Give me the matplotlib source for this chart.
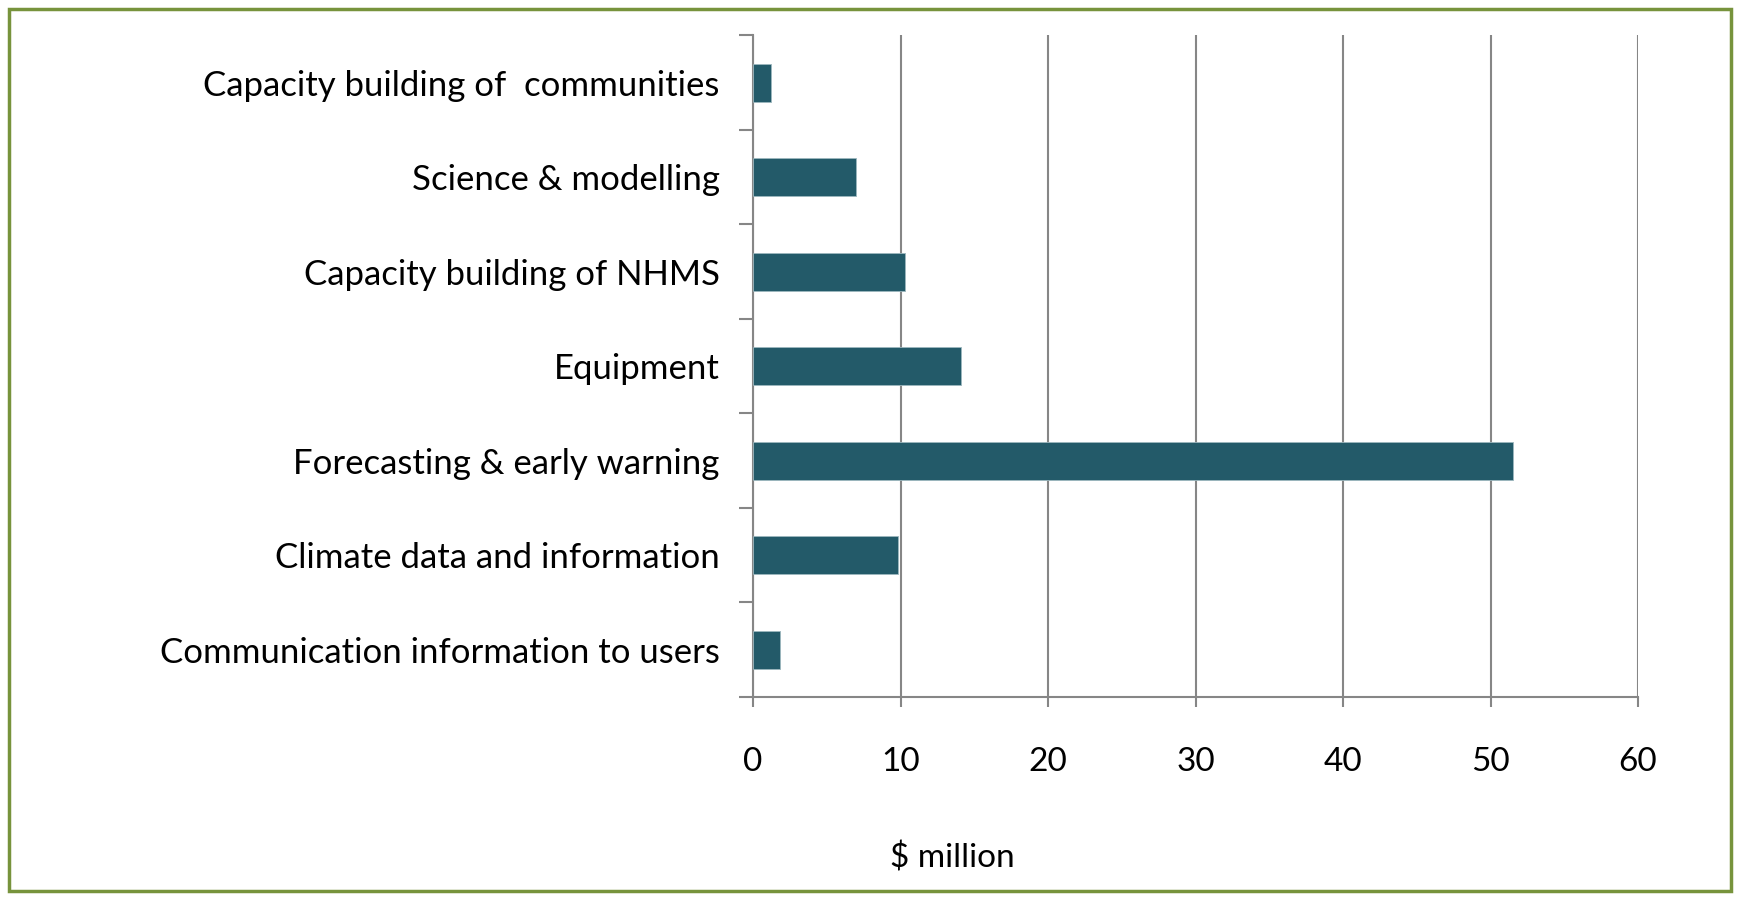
import matplotlib.pyplot as plt
from matplotlib.patches import Rectangle
import numpy as np

plt.rcParams['font.family'] = ['Lato', 'DejaVu Sans']

# bottom to top
categories = ["Communication information to users",
              "Climate data and information",
              "Forecasting & early warning",
              "Equipment",
              "Capacity building of NHMS",
              "Science & modelling",
              "Capacity building of  communities"]
values = [1.8, 9.8, 51.5, 14.1, 10.3, 7.0, 1.2]
xticks = [0, 10, 20, 30, 40, 50, 60]

bar_color = "#235A69"
grid_color = "#868686"

fig = plt.figure(figsize=(17.4, 9), dpi=100)
ax = fig.add_axes([0.4328, 0.2256, 0.5086, 0.7350])

y = np.arange(len(categories))
ax.barh(y, values, height=0.4, color=bar_color, edgecolor="#9DB7BE",
        linewidth=0.6, zorder=3)

ax.set_xlim(0, 60)
ax.set_ylim(-0.5, len(categories) - 0.5)

ax.set_xticks(xticks)
ax.set_xticklabels([str(t) for t in xticks], fontsize=24)
ax.set_yticks(y)
ax.set_yticklabels(categories, fontsize=25)
ax.set_yticks(np.arange(-0.5, len(categories)), minor=True)

ax.tick_params(axis="y", which="major", length=0, pad=24)
ax.tick_params(axis="y", which="minor", length=10, width=1.5, color=grid_color)
ax.tick_params(axis="x", which="major", length=7, width=1.5, color=grid_color, pad=29)

ax.grid(axis="x", color=grid_color, linewidth=1.5, zorder=0)
ax.set_axisbelow(True)

for side in ["top", "right"]:
    ax.spines[side].set_visible(False)
for side in ["left", "bottom"]:
    ax.spines[side].set_color(grid_color)
    ax.spines[side].set_linewidth(1.5)

fig.text(952 / 1740, 1 - 858 / 900, "$ million", fontsize=24,
         ha="center", va="center")

# green outer frame
fig.patches.append(Rectangle((9 / 1740, 9 / 900), 1 - 18 / 1740, 1 - 18 / 900,
                             transform=fig.transFigure, fill=False,
                             edgecolor="#77933C", linewidth=2.5))

fig.savefig("out.png", dpi=100)
